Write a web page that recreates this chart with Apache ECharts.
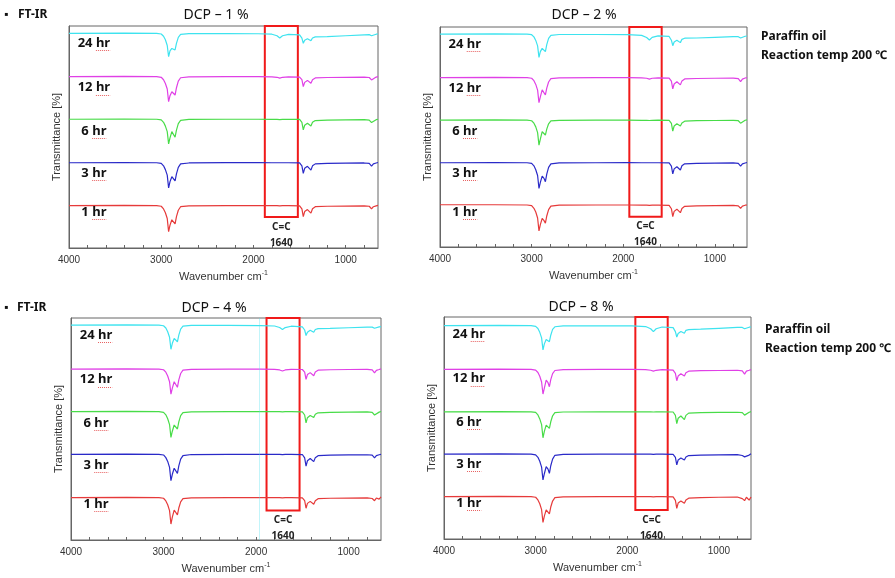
<!DOCTYPE html>
<html><head><meta charset="utf-8">
<script src="https://cdn.jsdelivr.net/npm/echarts@6/dist/echarts.min.js"></script>
<style>html,body{margin:0;padding:0;background:#fff}#c{width:895px;height:578px}</style>
</head><body><div id="c"></div><script>
// ---------- data ----------
const wavenumbers = [4000,3400,3050,3000,2975,2955,2935,2920,2905,2885,2865,2850,2835,2815,2790,2700,2300,1950,1800,1745,1715,1685,1620,1500,1475,1460,1445,1415,1395,1377,1360,1330,1200,1000,800,745,720,700,670,650];
const hours = ['24 hr','12 hr','6 hr','3 hr','1 hr'];
const panelTitles = ['DCP \u2013 1 %','DCP \u2013 2 %','DCP \u2013 4 %','DCP \u2013 8 %'];
const xLabelValues = [4000,3000,2000,1000];
const xTickValues = [4000,3800,3600,3400,3200,3000,2800,2600,2400,2200,2000,1800,1600,1400,1200,1000,800];
const boxLabel = 'C=C\n1640';
// C=C highlight box per panel: [from wn, to wn, lower transmittance]
const boxDCP1 = [1877,1519,14.0];
const boxDCP2 = [1934,1581,13.8];
const boxDCP4 = [1887,1530,13.3];
const boxDCP8 = [1912,1559,13.1];
const labelLevels = [92.2,72.2,52.7,33.7,16.0];
const labelWn = 3730;

const dcp1_24 = [96.7,96.8,96.7,96.4,95.4,93.8,91.2,86.2,88.8,89.9,89.6,89.2,92.2,94.9,96.2,96.6,96.6,96.5,96.3,95.6,94.6,95.6,96.2,96.0,94.5,92.2,93.6,94.3,94.0,93.4,94.6,95.1,95.2,95.6,96.0,96.1,95.6,96.0,96.3,96.4];
const dcp1_12 = [77.2,77.3,77.2,76.9,75.8,74.1,71.6,65.9,68.6,70.4,69.6,68.9,72.2,75.2,76.7,77.1,77.2,77.2,77.1,76.9,76.5,76.9,77.1,77.0,75.8,72.7,74.6,75.5,75.2,74.2,75.8,76.6,76.8,76.9,77.0,76.8,75.7,76.6,77.0,77.2];
const dcp1_6  = [58.0,58.1,58.0,57.7,56.6,54.9,52.4,46.9,49.6,52.4,51.5,49.9,53.1,56.0,57.5,57.9,58.0,58.0,57.9,57.9,57.8,57.9,58.0,57.9,56.6,53.2,55.3,56.2,55.9,55.0,56.6,57.4,57.6,57.7,57.8,57.6,56.5,57.4,57.8,58.0];
const dcp1_3  = [38.4,38.5,38.4,38.1,37.0,35.3,32.8,27.1,29.9,32.1,31.3,30.2,33.4,36.3,37.9,38.3,38.5,38.5,38.4,38.4,38.4,38.4,38.4,38.3,37.0,33.6,35.9,36.8,36.4,35.1,37.0,37.9,38.1,38.2,38.3,38.1,36.9,37.9,38.3,38.5];
const dcp1_1  = [19.1,19.2,19.1,18.8,17.6,15.9,13.3,7.4,10.3,12.7,11.9,10.9,14.1,17.0,18.6,19.0,19.1,19.1,19.1,19.1,19.0,19.1,19.1,19.0,17.6,14.1,16.4,17.3,16.9,15.7,17.7,18.6,18.8,18.9,19.0,18.8,17.6,18.6,19.0,19.2];

const dcp2_24 = [96.8,96.9,96.8,96.5,95.5,93.9,91.4,86.2,88.8,90.3,89.9,88.8,92.0,94.8,96.2,96.6,96.6,96.5,96.2,95.2,94.1,95.3,96.0,95.7,94.0,91.5,93.2,94.0,93.6,92.9,94.4,94.9,95.0,95.3,95.6,95.6,95.0,95.5,95.8,95.9];
const dcp2_12 = [77.0,77.1,77.0,76.7,75.6,73.9,71.3,65.6,68.2,71.4,70.5,69.1,72.2,75.0,76.5,76.9,77.0,77.0,76.9,76.7,76.3,76.7,76.9,76.8,75.4,71.9,74.1,75.1,74.8,73.7,75.5,76.4,76.6,76.7,76.8,76.5,75.2,76.3,76.8,77.0];
const dcp2_6  = [57.7,57.8,57.7,57.4,56.3,54.6,52.0,46.3,49.0,52.4,51.5,50.9,53.6,56.0,57.3,57.6,57.7,57.7,57.6,57.6,57.5,57.6,57.7,57.6,56.2,52.7,55.0,56.0,55.7,55.0,56.4,57.2,57.4,57.5,57.6,57.4,56.3,57.2,57.6,57.8];
const dcp2_3  = [38.3,38.4,38.3,38.0,36.9,35.1,32.5,26.6,29.4,32.2,31.2,29.7,33.1,36.2,37.8,38.2,38.3,38.4,38.3,38.3,38.3,38.3,38.3,38.2,36.8,33.2,35.5,36.5,36.1,35.0,36.9,37.8,38.0,38.1,38.2,38.0,36.8,37.8,38.2,38.4];
const dcp2_1  = [19.2,19.2,19.1,18.8,17.6,15.9,13.2,7.3,10.2,13.0,12.0,10.8,14.1,17.0,18.6,19.0,19.1,19.1,19.0,19.0,18.9,19.0,19.0,18.9,17.4,13.8,16.2,17.2,16.8,15.6,17.5,18.5,18.7,18.8,18.9,18.7,17.6,18.6,19.0,19.1];

const dcp4_24 = [96.8,96.9,96.8,96.5,95.5,93.8,91.3,85.9,88.6,90.8,90.3,89.3,92.3,95.0,96.3,96.7,96.7,96.6,96.4,95.7,94.8,95.7,96.3,96.0,94.6,92.1,93.6,94.5,94.3,93.6,94.8,95.2,95.3,95.6,95.9,95.9,95.4,95.8,96.0,96.1];
const dcp4_12 = [77.0,77.1,77.0,76.7,75.6,73.9,71.3,65.7,68.4,71.3,70.4,68.8,72.1,75.0,76.5,76.9,77.0,77.0,76.9,76.6,76.1,76.6,76.9,76.8,75.6,72.4,74.5,75.4,75.1,74.0,75.7,76.5,76.7,76.8,76.9,76.6,75.3,76.4,76.8,77.1];
const dcp4_6  = [57.8,57.9,57.8,57.5,56.4,54.6,52.0,46.2,49.0,51.8,51.0,50.0,53.2,56.0,57.4,57.7,57.8,57.8,57.8,57.8,57.7,57.8,57.8,57.7,56.3,52.8,55.1,56.1,55.8,55.2,56.6,57.3,57.5,57.6,57.7,57.5,56.3,57.2,57.6,57.9];
const dcp4_3  = [38.6,38.7,38.6,38.3,37.1,35.4,32.7,26.7,29.6,32.3,31.4,30.0,33.4,36.4,38.0,38.5,38.6,38.6,38.6,38.6,38.5,38.6,38.6,38.5,37.0,33.3,35.7,36.7,36.3,35.3,37.1,38.0,38.2,38.3,38.4,38.2,37.0,38.0,38.4,38.6];
const dcp4_1  = [19.1,19.2,19.1,18.8,17.6,15.9,13.2,7.2,10.3,13.5,12.6,11.3,14.4,17.2,18.6,19.0,19.1,19.1,19.1,19.1,19.0,19.1,19.1,19.0,17.7,14.3,16.5,17.4,17.1,16.1,17.7,18.6,18.8,18.9,19.0,18.7,17.7,18.9,18.4,19.4];

const dcp8_24 = [96.1,96.2,96.1,95.8,94.8,93.1,90.6,85.2,87.9,89.9,89.6,88.9,91.8,94.4,95.6,96.0,96.0,96.0,95.7,94.7,93.4,94.7,95.5,95.2,93.4,91.0,92.6,93.5,93.3,92.7,94.0,94.3,94.5,94.9,95.3,95.3,94.7,95.2,95.4,95.5];
const dcp8_12 = [76.4,76.5,76.4,76.1,75.0,73.3,70.7,65.3,68.0,71.6,70.4,68.6,71.8,74.5,75.9,76.3,76.4,76.4,76.3,76.0,75.6,76.0,76.3,76.1,74.6,71.3,73.4,74.4,74.3,73.4,74.9,75.6,75.8,75.9,76.0,75.7,74.3,75.6,76.0,76.3];
const dcp8_6  = [57.3,57.4,57.3,57.0,55.9,54.1,51.5,45.6,48.5,51.3,50.6,49.8,52.8,55.5,56.9,57.2,57.3,57.3,57.3,57.3,57.2,57.3,57.3,57.2,55.7,52.0,54.4,55.4,54.9,53.8,55.7,56.7,56.9,57.0,57.1,56.9,55.8,56.6,57.1,57.4];
const dcp8_3  = [38.2,38.3,38.2,37.9,36.8,35.0,32.4,26.6,29.4,32.6,31.5,29.6,33.0,36.0,37.7,38.1,38.2,38.2,38.2,38.2,38.1,38.2,38.2,38.1,36.8,33.4,35.6,36.5,36.3,35.6,36.9,37.6,37.8,37.9,38.0,37.6,37.0,37.3,37.8,38.4];
const dcp8_1  = [19.1,19.2,19.1,18.8,17.6,15.9,13.2,7.5,10.3,13.1,12.3,11.3,14.4,17.1,18.6,19.0,19.1,19.1,19.1,19.1,19.0,19.1,19.1,19.0,17.4,13.8,16.2,17.1,16.8,16.1,17.6,18.4,18.6,18.8,18.9,18.2,17.3,18.8,17.5,18.9];

// faint vertical trace seen in the DCP-4 % panel
const dcp4Trace = 1967;

// ---------- layout / style ----------
const colors = ['#3ee3ef','#e040e6','#48dc48','#2a2ac8','#e63a3a'];
const grids = [
  {left:69, top:26, width:309, height:222},
  {left:440, top:27, width:307, height:220},
  {left:71, top:318, width:310, height:222},
  {left:444, top:317, width:307, height:222}
];
const panels = [
  {title: panelTitles[0], data:[dcp1_24,dcp1_12,dcp1_6,dcp1_3,dcp1_1], box: boxDCP1, tx:216, ty:15},
  {title: panelTitles[1], data:[dcp2_24,dcp2_12,dcp2_6,dcp2_3,dcp2_1], box: boxDCP2, tx:584, ty:15},
  {title: panelTitles[2], data:[dcp4_24,dcp4_12,dcp4_6,dcp4_3,dcp4_1], box: boxDCP4, tx:214, ty:308},
  {title: panelTitles[3], data:[dcp8_24,dcp8_12,dcp8_6,dcp8_3,dcp8_1], box: boxDCP8, tx:581, ty:307}
];

const axisFont = 'Liberation Sans, Arial, sans-serif';
const boldFont = 'Noto Sans, sans-serif';
const labelFont = 'bold 13px Noto Sans, sans-serif';

const xAxes = [], yAxes = [], series = [];
panels.forEach((p, gi) => {
  xAxes.push({
    type:'value', gridIndex:gi, inverse:true, min:650, max:4000,
    name:'{a|Wavenumber cm}{s|-1}', nameLocation:'middle', nameGap:22,
    nameTextStyle:{rich:{a:{fontSize:11, color:'#333', fontFamily:axisFont, lineHeight:14},
                        s:{fontSize:7, color:'#333', fontFamily:axisFont, verticalAlign:'top', lineHeight:14}}},
    axisLine:{show:true, lineStyle:{color:'#666', width:1}},
    axisTick:{show:true, inside:true, length:3, customValues:xTickValues, lineStyle:{color:'#666'}},
    axisLabel:{show:true, customValues:xLabelValues, formatter:(v) => String(v), fontSize:10, color:'#333', margin:7, fontFamily:axisFont},
    splitLine:{show:false}
  });
  yAxes.push({
    type:'value', gridIndex:gi, min:0, max:100,
    name:'Transmittance [%]', nameLocation:'middle', nameGap:7,
    nameTextStyle:{fontSize:11, color:'#333', fontFamily:axisFont},
    axisLine:{show:true, lineStyle:{color:'#666', width:1}},
    axisTick:{show:false}, axisLabel:{show:false}, splitLine:{show:false}
  });
  p.data.forEach((vals, si) => {
    const s = {
      type:'line', xAxisIndex:gi, yAxisIndex:gi, name: hours[si],
      data: wavenumbers.map((w, k) => [w, vals[k]]),
      showSymbol:false, symbol:'none', silent:true,
      lineStyle:{color:colors[si], width:1.2},
      z: 3,
      markPoint:{
        silent:true, symbol:'rect', symbolSize:1, itemStyle:{color:'rgba(0,0,0,0)'},
        data:[{coord:[labelWn, labelLevels[si]], name:hours[si]}],
        label:{show:true, position:'inside', formatter:'{b}', color:'#111', fontSize:13, fontWeight:'bold', fontFamily:boldFont}
      }
    };
    if (si === 4) {
      s.markArea = {
        silent:true,
        itemStyle:{color:'rgba(0,0,0,0)', borderColor:'#f01a1a', borderWidth:2},
        label:{show:true, position:'bottom', distance:1, formatter:boxLabel, fontSize:10, fontWeight:'bold', lineHeight:16, color:'#222', fontFamily:boldFont},
        data:[[{coord:[p.box[0], 100]}, {coord:[p.box[1], p.box[2]]}]]
      };
    }
    if (gi === 2 && si === 0) {
      s.markLine = {silent:true, symbol:'none', label:{show:false},
        lineStyle:{color:'rgba(80,225,240,0.35)', width:1, type:'solid'},
        data:[{xAxis:dcp4Trace}]};
    }
    series.push(s);
  });
});

const graphics = [];
function txt(x, y, text, font, align) {
  graphics.push({type:'text', x:x, y:y, silent:true,
    style:{text:text, font:font, fill:'#111', textAlign:align||'left', textVerticalAlign:'middle'}});
}
panels.forEach(p => txt(p.tx, p.ty, p.title, '14px Noto Sans, sans-serif', 'center'));
txt(4, 15, '\u25AA', '12px Noto Sans, sans-serif');
txt(18, 15, 'FT-IR', 'bold 12px Noto Sans, sans-serif');
txt(4, 308, '\u25AA', '12px Noto Sans, sans-serif');
txt(17, 308, 'FT-IR', 'bold 12px Noto Sans, sans-serif');
txt(761, 37, 'Paraffin oil', 'bold 12px Noto Sans, sans-serif');
txt(761, 56, 'Reaction temp 200 \u2103', 'bold 12px Noto Sans, sans-serif');
txt(765, 330, 'Paraffin oil', 'bold 12px Noto Sans, sans-serif');
txt(765, 349, 'Reaction temp 200 \u2103', 'bold 12px Noto Sans, sans-serif');

const chart = echarts.init(document.getElementById('c'), null, {renderer:'canvas'});
chart.setOption({
  animation:false,
  backgroundColor:'#ffffff',
  grid: grids.map(g => Object.assign({show:true, borderColor:'#666', borderWidth:1, backgroundColor:'transparent'}, g)),
  xAxis: xAxes, yAxis: yAxes, series: series, graphic: graphics
});

// red spell-check style dotted underline beneath "hr" of each time label
const ctx = document.createElement('canvas').getContext('2d');
ctx.font = labelFont;
const underlines = [];
panels.forEach((p, gi) => {
  hours.forEach((h, si) => {
    const c = chart.convertToPixel({xAxisIndex:gi, yAxisIndex:gi}, [labelWn, labelLevels[si]]);
    const full = ctx.measureText(h).width;
    const hrW = ctx.measureText('hr').width;
    const x2 = c[0] + full / 2;
    const x1 = x2 - hrW;
    const y = Math.round(c[1] + 7) + 0.5;
    underlines.push({type:'line', silent:true, z:10,
      shape:{x1:x1, y1:y, x2:x2, y2:y},
      style:{stroke:'#e86060', lineWidth:1, lineDash:[1,1]}});
  });
});
chart.setOption({graphic: graphics.concat(underlines)});
</script></body></html>
